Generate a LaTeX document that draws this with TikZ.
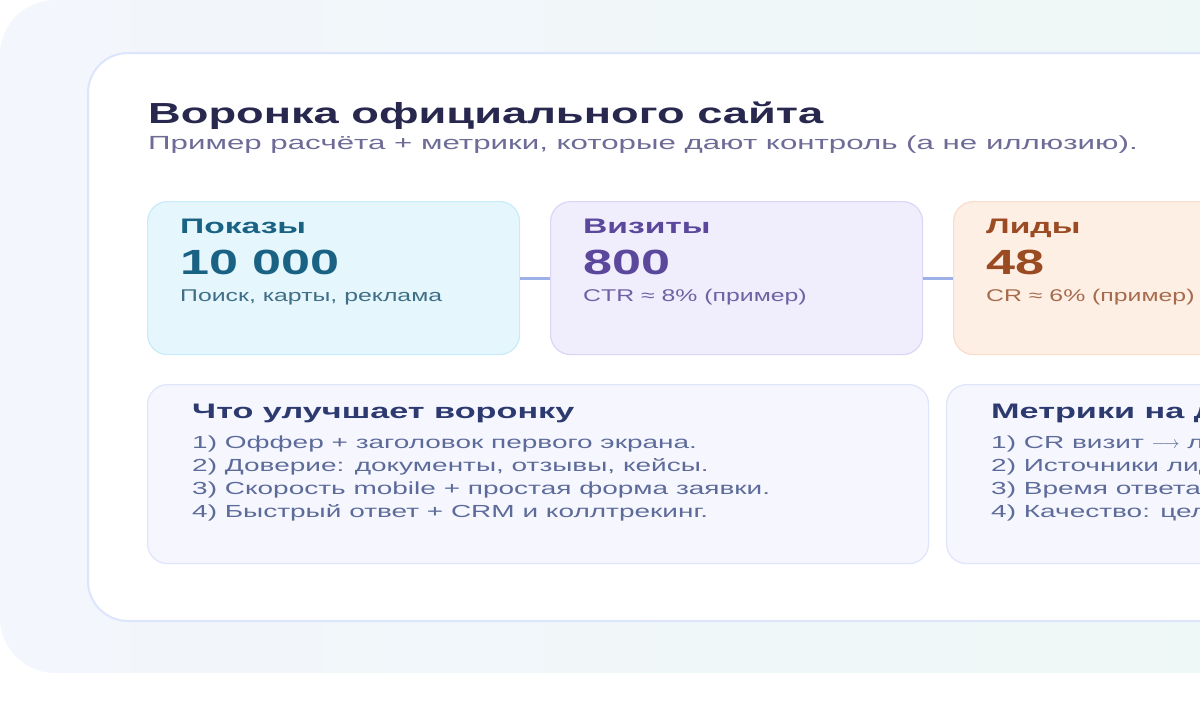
\documentclass[tikz,border=0pt]{standalone}
\usepackage{fontspec}
\setmainfont[FakeStretch=1.4]{Liberation Sans}
\newfontfamily\titlefont[FakeStretch=1.56]{Liberation Sans}
\newfontfamily\subfont[FakeStretch=1.645]{Liberation Sans}
\newfontfamily\headfont[FakeStretch=1.6]{Liberation Sans}
\newfontfamily\numfont[FakeStretch=1.49]{Liberation Sans}
\newfontfamily\smallfont[FakeStretch=1.46]{Liberation Sans}
\newfontfamily\listfont[FakeStretch=1.6]{Liberation Sans}
\newfontfamily\lheadfont[FakeStretch=1.63]{Liberation Sans}
\definecolor{bgA}{HTML}{F3F6FC}
\definecolor{bgB}{HTML}{EEF8F6}
\definecolor{cardD}{HTML}{DCE5FB}
\definecolor{titleC}{HTML}{28284F}
\definecolor{subC}{HTML}{6E6B97}
\definecolor{aT}{HTML}{1A6284}
\definecolor{aS}{HTML}{3E6F86}
\definecolor{aF}{HTML}{E6F6FD}
\definecolor{aD}{HTML}{C8EBF9}
\definecolor{bT}{HTML}{5B479B}
\definecolor{bS}{HTML}{6F62A3}
\definecolor{bF}{HTML}{F0EDFD}
\definecolor{bD}{HTML}{DCD5F8}
\definecolor{cT}{HTML}{9B4B22}
\definecolor{cS}{HTML}{A66B4C}
\definecolor{cF}{HTML}{FEEFE5}
\definecolor{cD}{HTML}{FBDCCA}
\definecolor{connC}{HTML}{9DB0E8}
\definecolor{lF}{HTML}{F6F7FE}
\definecolor{lD}{HTML}{DEE4FA}
\definecolor{lT}{HTML}{2C3A6F}
\definecolor{lS}{HTML}{5D6B9A}
\tikzset{
  stagebox/.style={rounded corners=20pt, line width=1.2pt, anchor=north west, minimum width=372pt, minimum height=153pt, inner sep=0pt},
  listbox/.style={rounded corners=20pt, line width=1.2pt, fill=lF, draw=lD, anchor=north west, minimum width=781pt, minimum height=179pt, inner sep=0pt},
  txt/.style={anchor=base west, inner sep=0pt},
  headf/.style={font=\headfont\fontsize{21}{25}\selectfont\bfseries},
  lheadf/.style={font=\lheadfont\fontsize{21}{25}\selectfont\bfseries},
  numf/.style={font=\numfont\fontsize{35}{40}\selectfont\bfseries},
  smallf/.style={font=\smallfont\fontsize{17}{20}\selectfont},
  listf/.style={font=\listfont\fontsize{17.5}{21}\selectfont},
  conn/.style={draw=connC, line width=2.8pt}
}
\begin{document}
\begin{tikzpicture}[x=1pt,y=-1pt]
\useasboundingbox (0,0) rectangle (1200,720);
\clip (0,0) rectangle (1200,720);
\shade[left color=bgA, right color=bgB, rounded corners=55pt] (0,0) rectangle (1300,673);
\draw[fill=white, draw=cardD, line width=2pt, rounded corners=40pt] (88,53) rectangle (1300,621);
\node[txt, font=\titlefont\fontsize{29}{34}\selectfont\bfseries, text=titleC] (title) at (148,123) {Воронка официального сайта};
\node[txt, font=\subfont\fontsize{19}{23}\selectfont, text=subC] (sub) at (148,149) {Пример расчёта + метрики, которые дают контроль (а не иллюзию).};
% stage boxes
\node[stagebox, fill=aF, draw=aD] (b1) at (147,201) {};
\node[stagebox, fill=bF, draw=bD] (b2) at (550,201) {};
\node[stagebox, fill=cF, draw=cD] (b3) at (953,201) {};
\draw[conn] (b1.east) -- (b2.west);
\draw[conn] (b2.east) -- (b3.west);
\node[txt, headf, text=aT] (b1h) at (180,233) {Показы};
\node[txt, numf, text=aT] (b1n) at (180,274) {10 000};
\node[txt, smallf, text=aS] (b1s) at (180,301) {Поиск, карты, реклама};
\node[txt, headf, text=bT] (b2h) at (583,233) {Визиты};
\node[txt, numf, text=bT] (b2n) at (583,274) {800};
\node[txt, smallf, text=bS] (b2s) at (583,301) {CTR ≈ 8\% (пример)};
\node[txt, headf, text=cT] (b3h) at (986,233) {Лиды};
\node[txt, numf, text=cT] (b3n) at (986,274) {48};
\node[txt, smallf, text=cS] (b3s) at (986,301) {CR ≈ 6\% (пример)};
% list boxes
\node[listbox] (l1) at (147,384) {};
\node[listbox] (l2) at (946,384) {};
\node[txt, lheadf, text=lT] (l1h) at (192,418) {Что улучшает воронку};
\node[txt, listf, text=lS] (l1a) at (192,448) {1) Оффер + заголовок первого экрана.};
\node[txt, listf, text=lS] (l1b) at (192,471) {2) Доверие: документы, отзывы, кейсы.};
\node[txt, listf, text=lS] (l1c) at (192,494) {3) Скорость mobile + простая форма заявки.};
\node[txt, listf, text=lS] (l1d) at (192,517) {4) Быстрый ответ + CRM и коллтрекинг.};
\node[txt, lheadf, text=lT] (l2h) at (991,418) {Метрики на дашборде};
\node[txt, listf, text=lS] (l2a) at (991,448) {1) CR визит $\longrightarrow$ лид};
\node[txt, listf, text=lS] (l2b) at (991,471) {2) Источники лидов};
\node[txt, listf, text=lS] (l2c) at (991,494) {3) Время ответа};
\node[txt, listf, text=lS] (l2d) at (991,517) {4) Качество: целевые лиды};
\end{tikzpicture}
\end{document}
